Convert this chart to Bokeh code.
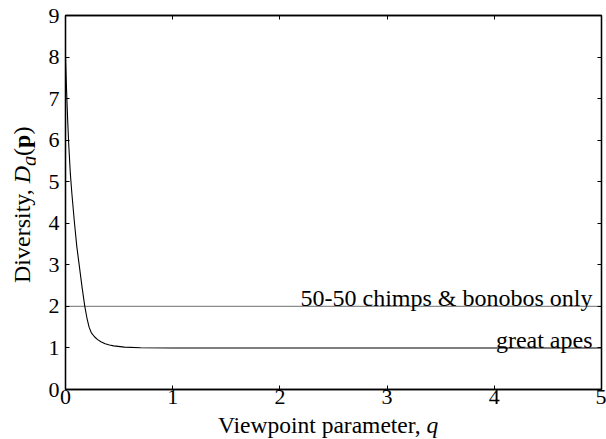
from bokeh.plotting import figure
from bokeh.models import Label, LinearAxis, Range1d, FixedTicker, Div
from bokeh.layouts import row, column
from bokeh.embed import file_html
from bokeh.resources import INLINE

# ---- data ----
great_apes_q = [0.0, 0.01, 0.02, 0.03, 0.045, 0.06, 0.084, 0.105, 0.13, 0.155, 0.18,
                0.20, 0.22, 0.24, 0.27, 0.30, 0.33, 0.37, 0.41, 0.45, 0.55, 0.70,
                1.0, 1.5, 2.0, 3.0, 4.0, 5.0]
great_apes_D = [8.0, 7.2, 6.5, 5.9, 5.2, 4.7, 4.0, 3.45, 2.95, 2.45, 2.0,
                1.72, 1.5, 1.37, 1.27, 1.2, 1.15, 1.1, 1.07, 1.05, 1.02, 1.005,
                1.0, 1.0, 1.0, 1.0, 1.0, 1.0]
chimps_q = [0.0, 5.0]
chimps_D = [2.0, 2.0]
x_ticks = [0, 1, 2, 3, 4, 5]
y_ticks = [0, 1, 2, 3, 4, 5, 6, 7, 8, 9]
label_chimps = "50-50 chimps & bonobos only"
label_apes = "great apes"
x_title_html = "Viewpoint parameter, <i>q</i>"
y_title_html = "Diversity, <i>D</i><sub><i>q</i></sub>(<b>p</b>)"

FONT = "Liberation Serif"

p = figure(width=571, height=415, x_range=Range1d(0, 5), y_range=Range1d(0, 9),
           output_backend="svg", toolbar_location=None,
           min_border_left=30, min_border_top=15, min_border_right=5, min_border_bottom=26,
           margin=(0, 0, 0, 0))
p.xgrid.visible = False
p.ygrid.visible = False
p.outline_line_color = "black"
p.outline_line_width = 1.3
p.background_fill_color = "white"
p.border_fill_color = "white"

def style_axis(ax, ticks, show_labels, standoff):
    ax.ticker = FixedTicker(ticks=ticks)
    ax.major_tick_in = 4
    ax.major_tick_out = 0
    ax.minor_tick_line_color = None
    ax.axis_line_color = "black"
    ax.axis_line_width = 1.3
    ax.major_tick_line_color = "black"
    ax.major_tick_line_width = 1
    ax.major_label_text_font = FONT
    ax.major_label_text_font_size = "22px"
    ax.major_label_standoff = standoff
    ax.major_label_text_color = "black" if show_labels else None

style_axis(p.xaxis[0], x_ticks, True, 0)
style_axis(p.yaxis[0], y_ticks, True, 6)
top = LinearAxis()
style_axis(top, x_ticks, False, 0)
p.add_layout(top, "above")
right = LinearAxis()
style_axis(right, y_ticks, False, 0)
p.add_layout(right, "right")

p.line(chimps_q, chimps_D, line_color="#8c8c8c", line_width=1.4)
p.line(great_apes_q, great_apes_D, line_color="black", line_width=1.1)

p.add_layout(Label(x=chimps_q[-1], y=chimps_D[-1], x_offset=-9, y_offset=8, text=label_chimps,
                   text_align="right", text_baseline="alphabetic",
                   text_font=FONT, text_font_size="24px", text_color="black"))
p.add_layout(Label(x=great_apes_q[-1], y=great_apes_D[-1], x_offset=-9, y_offset=8, text=label_apes,
                   text_align="right", text_baseline="alphabetic",
                   text_font=FONT, text_font_size="24px", text_color="black"))

font_css = "font-family:'Liberation Serif',serif;color:black;white-space:nowrap;"

x_title = Div(
    text=('<div style="position:relative;width:571px;height:24px;">'
          '<div style="position:absolute;left:183px;top:-1px;font-size:23.5px;line-height:23px;'
          + font_css + '">' + x_title_html + '</div></div>'),
    width=571, height=24, margin=(0, 0, 0, 0))

y_title = Div(
    text=('<div style="position:relative;width:35px;height:439px;">'
          '<div style="position:absolute;left:10px;top:283px;font-size:24px;line-height:24px;'
          'transform:rotate(-90deg);transform-origin:0 0;'
          + font_css + '">' + y_title_html + '</div></div>'),
    width=35, height=439, margin=(0, 0, 0, 0))

layout = row(y_title, column(p, x_title, spacing=0), spacing=0)

open("out.html", "w").write(file_html(layout, INLINE))
